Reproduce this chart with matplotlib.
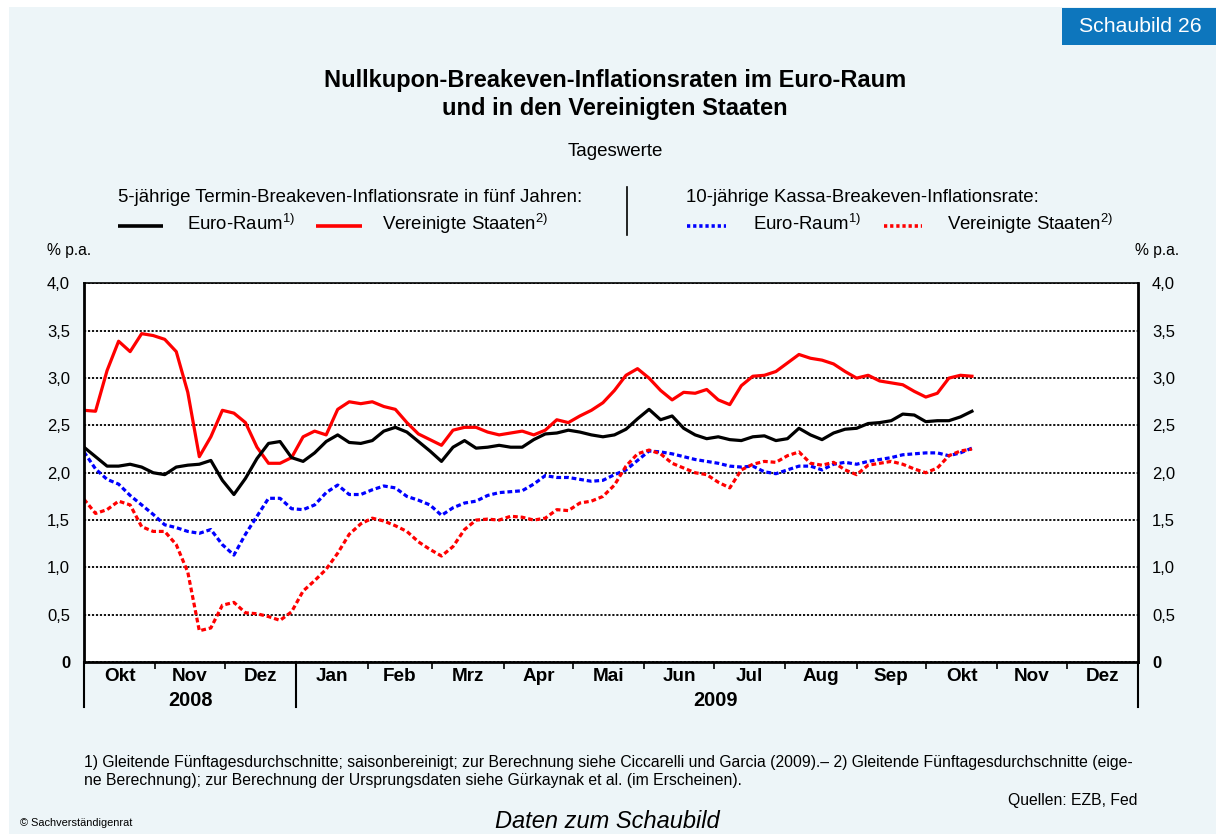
import numpy as np
import pandas as pd
import matplotlib
matplotlib.use("Agg")
import matplotlib.pyplot as plt
from matplotlib.lines import Line2D
from matplotlib.patches import Rectangle

plt.rcParams['font.family'] = ['Liberation Sans', 'DejaVu Sans']
plt.rcParams['mathtext.fontset'] = 'custom'
plt.rcParams['mathtext.rm'] = 'Liberation Sans'
plt.rcParams['mathtext.it'] = 'Liberation Sans:italic'
plt.rcParams['mathtext.bf'] = 'Liberation Sans:bold'

# observation dates (every 5th day, 1 Oct 2008 - 21 Oct 2009)
dates = pd.date_range('2008-10-01', periods=78, freq='5D')

# 5-jährige Termin-Breakeven-Inflationsrate in fünf Jahren
ez_forward = [2.27, 2.17, 2.07, 2.07, 2.09, 2.06, 2.00, 1.98, 2.06, 2.08,
              2.09, 2.13, 1.92, 1.77, 1.94, 2.15, 2.31, 2.33, 2.16, 2.12,
              2.21, 2.33, 2.40, 2.32, 2.31, 2.34, 2.44, 2.48, 2.43, 2.33,
              2.23, 2.12, 2.27, 2.34, 2.26, 2.27, 2.29, 2.27, 2.27, 2.35,
              2.41, 2.42, 2.45, 2.43, 2.40, 2.38, 2.40, 2.46, 2.57, 2.67,
              2.56, 2.60, 2.47, 2.40, 2.36, 2.38, 2.35, 2.34, 2.38, 2.39,
              2.34, 2.36, 2.47, 2.40, 2.35, 2.42, 2.46, 2.47, 2.52, 2.53,
              2.55, 2.62, 2.61, 2.54, 2.55, 2.55, 2.59, 2.65]
us_forward = [2.66, 2.65, 3.08, 3.39, 3.28, 3.47, 3.45, 3.41, 3.28, 2.85,
              2.17, 2.38, 2.66, 2.63, 2.53, 2.27, 2.10, 2.10, 2.16, 2.38,
              2.44, 2.40, 2.67, 2.75, 2.73, 2.75, 2.70, 2.67, 2.53, 2.41,
              2.35, 2.29, 2.45, 2.48, 2.48, 2.43, 2.40, 2.42, 2.44, 2.40,
              2.45, 2.56, 2.53, 2.60, 2.66, 2.74, 2.87, 3.03, 3.10, 3.00,
              2.87, 2.77, 2.85, 2.84, 2.88, 2.77, 2.72, 2.92, 3.02, 3.03,
              3.07, 3.16, 3.25, 3.21, 3.19, 3.15, 3.07, 3.00, 3.03, 2.97,
              2.95, 2.93, 2.86, 2.80, 2.84, 3.00, 3.03, 3.02]

# 10-jährige Kassa-Breakeven-Inflationsrate
ez_spot = [2.22, 2.04, 1.93, 1.88, 1.76, 1.66, 1.56, 1.45, 1.42, 1.38,
           1.36, 1.40, 1.24, 1.13, 1.35, 1.54, 1.73, 1.73, 1.62, 1.61,
           1.66, 1.79, 1.87, 1.77, 1.77, 1.82, 1.86, 1.84, 1.75, 1.71,
           1.66, 1.55, 1.63, 1.68, 1.70, 1.76, 1.79, 1.80, 1.81, 1.88,
           1.97, 1.95, 1.95, 1.93, 1.91, 1.92, 1.98, 2.03, 2.13, 2.23,
           2.22, 2.20, 2.17, 2.14, 2.12, 2.10, 2.07, 2.06, 2.07, 2.01,
           1.99, 2.03, 2.07, 2.07, 2.03, 2.09, 2.11, 2.09, 2.12, 2.14,
           2.16, 2.19, 2.20, 2.21, 2.21, 2.18, 2.21, 2.26]
us_spot = [1.72, 1.57, 1.61, 1.70, 1.66, 1.43, 1.38, 1.38, 1.24, 0.95,
           0.33, 0.36, 0.60, 0.63, 0.52, 0.51, 0.48, 0.44, 0.53, 0.75,
           0.86, 0.98, 1.15, 1.35, 1.46, 1.52, 1.49, 1.44, 1.38, 1.27,
           1.19, 1.12, 1.22, 1.40, 1.50, 1.51, 1.50, 1.54, 1.53, 1.50,
           1.52, 1.61, 1.60, 1.68, 1.70, 1.75, 1.87, 2.07, 2.20, 2.24,
           2.20, 2.10, 2.05, 2.00, 1.98, 1.90, 1.84, 2.03, 2.09, 2.12,
           2.11, 2.18, 2.22, 2.10, 2.08, 2.11, 2.03, 1.98, 2.08, 2.10,
           2.12, 2.09, 2.04, 2.00, 2.05, 2.18, 2.23, 2.25]

month_labels = ['Okt', 'Nov', 'Dez', 'Jan', 'Feb', 'Mrz', 'Apr', 'Mai',
                'Jun', 'Jul', 'Aug', 'Sep', 'Okt', 'Nov', 'Dez']
y_ticks = [0, 0.5, 1.0, 1.5, 2.0, 2.5, 3.0, 3.5, 4.0]
y_labels = ['0', '0,5', '1,0', '1,5', '2,0', '2,5', '3,0', '3,5', '4,0']

W, H = 1216, 834
bg = '#EDF5F8'
dotted = (0, (1.5, 0.9))

fig = plt.figure(figsize=(W / 100, H / 100), dpi=100)
fig.patch.set_facecolor('white')
fig.add_artist(Rectangle((9 / W, 0), 1, 1 - 7 / H, transform=fig.transFigure,
                         facecolor=bg, edgecolor='none', zorder=-10))


def ftext(x, y, s, **kw):
    fig.text(x / W, 1 - y / H, s, **kw)


def fline(x1, x2, y1, y2, **kw):
    fig.add_artist(Line2D([x1 / W, x2 / W], [1 - y1 / H, 1 - y2 / H],
                          transform=fig.transFigure, **kw))


# header box
fig.add_artist(Rectangle((1062 / W, 1 - 45 / H), (W - 1062) / W, 37 / H,
                         transform=fig.transFigure, facecolor='#0D76BD',
                         edgecolor='none'))
ftext(1140, 27, 'Schaubild 26', color='white', fontsize=15.3, ha='center', va='center')

# titles
ftext(615, 81, 'Nullkupon-Breakeven-Inflationsraten im Euro-Raum',
      fontsize=17, weight='bold', ha='center', va='center')
ftext(615, 108, 'und in den Vereinigten Staaten',
      fontsize=17, weight='bold', ha='center', va='center')
ftext(615, 152, 'Tageswerte', fontsize=13.5, ha='center', va='center')

# legend
ftext(118, 197, '5-jährige Termin-Breakeven-Inflationsrate in fünf Jahren:',
      fontsize=13.4, va='center')
ftext(686, 197, '10-jährige Kassa-Breakeven-Inflationsrate:', fontsize=13.4, va='center')
fline(627, 627, 187, 235, color='black', lw=1.2)

fline(118, 163, 226, 226, color='black', lw=2.6, solid_capstyle='butt')
ftext(187, 224, r'Euro-Raum$^{\rm 1)}$', fontsize=13.4, va='center')
fline(316, 362, 226, 226, color='#FF0000', lw=2.6, solid_capstyle='butt')
ftext(382, 224, r'Vereinigte Staaten$^{\rm 2)}$', fontsize=13.4, va='center')
fline(687, 726, 226, 226, color='#0000FF', lw=2.6, linestyle=(0, (0.9, 0.8)))
ftext(753, 224, r'Euro-Raum$^{\rm 1)}$', fontsize=13.4, va='center')
fline(884, 922, 226, 226, color='#FF0000', lw=2.6, linestyle=(0, (0.9, 0.8)))
ftext(947, 224, r'Vereinigte Staaten$^{\rm 2)}$', fontsize=13.4, va='center')

ftext(47, 251, '% p.a.', fontsize=11.3, va='center')
ftext(1135, 251, '% p.a.', fontsize=11.3, va='center')

# chart
ax = fig.add_axes([84 / W, 1 - 662 / H, 1054 / W, 378.5 / H])
ax.set_facecolor('white')

ax.plot(dates, ez_spot, color='#0000FF', lw=2.3, linestyle=dotted)
ax.plot(dates, us_spot, color='#FF0000', lw=2.3, linestyle=dotted)
ax.plot(dates, us_forward, color='#FF0000', lw=2.3)
ax.plot(dates, ez_forward, color='black', lw=2.3)

start, end = pd.Timestamp('2008-10-01'), pd.Timestamp('2010-01-01')
ax.set_xlim(start, end)
ax.set_ylim(0, 4)

month_starts = pd.date_range(start, end, freq='MS')
ax.set_xticks(month_starts)
ax.set_xticklabels([])
ax.set_xticks(month_starts[:-1] + (month_starts[1:] - month_starts[:-1]) / 2, minor=True)
ax.set_xticklabels(month_labels, minor=True, fontsize=13.6, weight='bold')
ax.tick_params(axis='x', which='major', direction='out', length=5, width=1.2)
ax.tick_params(axis='x', which='minor', length=0, pad=4.5)

ax.set_yticks(y_ticks)
ax.set_yticklabels(y_labels, fontsize=12)
ax.tick_params(axis='y', length=0, labelleft=True, labelright=True, pad=10)
for t in ax.yaxis.get_major_ticks()[:1]:
    t.label1.set_fontweight('bold')
    t.label2.set_fontweight('bold')

ax.yaxis.grid(True, color='black', linestyle=(0, (1.2, 1.0)), lw=1.3)
ax.set_axisbelow(True)

for side in ['left', 'right', 'bottom']:
    ax.spines[side].set_linewidth(2.0)
ax.spines['top'].set_linewidth(1.2)

# year separators and year labels below the axis
trans = ax.get_xaxis_transform()
below = -45 / 378.5
for x in [start, pd.Timestamp('2009-01-01'), end]:
    ax.plot([x, x], [0, below], transform=trans, clip_on=False, color='black', lw=1.5)
ax.text(pd.Timestamp('2008-11-16'), -38 / 378.5, '2008', transform=trans,
        ha='center', va='center', fontsize=14.3, weight='bold')
ax.text(pd.Timestamp('2009-07-02'), -38 / 378.5, '2009', transform=trans,
        ha='center', va='center', fontsize=14.3, weight='bold')

# footnotes
ftext(84, 763, '1) Gleitende Fünftagesdurchschnitte; saisonbereinigt; zur Berechnung '
      'siehe Ciccarelli und Garcia (2009).– 2) Gleitende Fünftagesdurchschnitte (eige-',
      fontsize=11.35, va='center')
ftext(84, 780, 'ne Berechnung); zur Berechnung der Ursprungsdaten siehe Gürkaynak '
      'et al. (im Erscheinen).', fontsize=11.35, va='center')
ftext(1138, 800, 'Quellen: EZB, Fed', fontsize=11.3, ha='right', va='center')
ftext(20, 823, '© Sachverständigenrat', fontsize=7.9, va='center')
ftext(607, 822, 'Daten zum Schaubild', fontsize=17, style='italic', ha='center', va='center')

fig.savefig('out.png', dpi=100, facecolor=fig.get_facecolor())
